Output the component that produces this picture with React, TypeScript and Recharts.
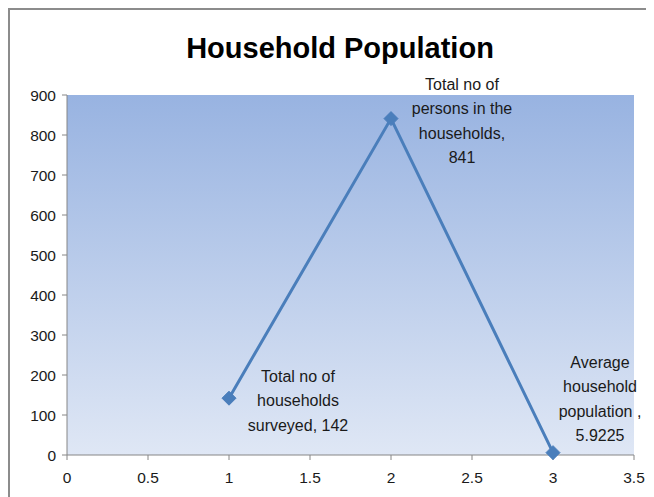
import React from 'react';
import { LineChart, Line, XAxis, YAxis, ReferenceArea, LabelList } from 'recharts';

const xValues = [1, 2, 3];
const yValues = [142, 841, 5.9225];
const labelLines = [
  ['Total no of', 'households', 'surveyed, 142'],
  ['Total no of', 'persons in the', 'households,', '841'],
  ['Average', 'household', 'population ,', '5.9225'],
];
const xTicks = [0, 0.5, 1, 1.5, 2, 2.5, 3, 3.5];
const yTicks = [0, 100, 200, 300, 400, 500, 600, 700, 800, 900];
const title = 'Household Population';

const data = xValues.map((x, i) => ({ x, y: yValues[i], idx: i }));

const FONT = '"Liberation Sans Narrow", "Liberation Sans", Arial, sans-serif';
const LINE_COLOR = '#4A7EBB';

// label placement relative to the point: [dx, dy of block center]
const labelOffsets = [
  [69, 2],
  [71, 2],
  [47, -54],
];

const Diamond = (props: any) => {
  const { cx, cy } = props;
  if (cx == null || cy == null) return null;
  const r = 7;
  return (
    <polygon
      points={`${cx},${cy - r} ${cx + r},${cy} ${cx},${cy + r} ${cx - r},${cy}`}
      fill={LINE_COLOR}
      stroke={LINE_COLOR}
    />
  );
};

const renderLabel = (props: any) => {
  const { x, y, index } = props;
  const lines = labelLines[index];
  const [dx, dy] = labelOffsets[index];
  const lh = 24.5;
  const startY = y + dy - ((lines.length - 1) * lh) / 2;
  return (
    <text
      textAnchor="middle"
      fontFamily={FONT}
      fontSize={16}
      fill="#1a1a1a"
      dominantBaseline="central"
    >
      {lines.map((l, i) => (
        <tspan key={i} x={x + dx} y={startY + i * lh}>
          {l}
        </tspan>
      ))}
    </text>
  );
};

export default function App() {
  return (
    <div
      style={{
        position: 'relative',
        width: 646,
        height: 489,
        borderTop: '2px solid #8c8c8c',
        borderLeft: '2px solid #8c8c8c',
        boxSizing: 'border-box',
        background: '#fff',
        overflow: 'hidden',
      }}
    >
      <div
        style={{
          position: 'absolute',
          left: 0,
          width: 660,
          top: 18,
          textAlign: 'center',
          fontFamily: FONT,
          fontWeight: 'bold',
          fontSize: 29,
          color: '#000',
          lineHeight: '40px',
        }}
      >
        {title}
      </div>
      <LineChart
        width={644}
        height={487}
        data={data}
        margin={{ top: 85, right: 20, left: 0, bottom: 0 }}
      >
        <defs>
          <linearGradient id="bgGrad" x1="0" y1="0" x2="0" y2="1">
            <stop offset="0%" stopColor="#98B3E1" />
            <stop offset="100%" stopColor="#DFE7F5" />
          </linearGradient>
        </defs>
        <XAxis
          dataKey="x"
          type="number"
          domain={[0, 3.5]}
          ticks={xTicks}
          interval={0}
          height={42}
          tickSize={5}
          tickMargin={12}
          stroke="#868686"
          tick={{ fill: '#1a1a1a', fontSize: 15.5, fontFamily: FONT }}
        />
        <YAxis
          type="number"
          domain={[0, 900]}
          ticks={yTicks}
          interval={0}
          width={57}
          tickSize={5}
          tickMargin={6}
          stroke="#868686"
          tick={{ fill: '#1a1a1a', fontSize: 15.5, fontFamily: FONT }}
        />
        <ReferenceArea
          x1={0}
          x2={3.5}
          y1={0}
          y2={900}
          fill="url(#bgGrad)"
          fillOpacity={1}
          stroke="none"
        />
        <Line
          dataKey="y"
          stroke={LINE_COLOR}
          strokeWidth={3}
          dot={<Diamond />}
          activeDot={false}
          isAnimationActive={false}
        >
          <LabelList dataKey="y" content={renderLabel} />
        </Line>
      </LineChart>
    </div>
  );
}
